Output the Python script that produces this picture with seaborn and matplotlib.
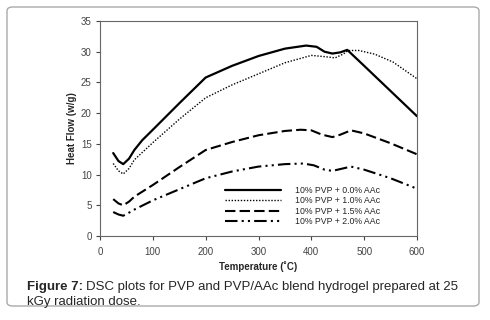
import pandas as pd
import matplotlib.pyplot as plt
import seaborn as sns
from matplotlib.patches import FancyBboxPatch

# DSC curves (temperature in C, heat flow in w/g)
temp_00 = [25, 35, 44, 55, 65, 80, 100, 150, 200, 250, 300, 350, 390, 410, 425, 440, 455, 468, 500, 550, 600]
flow_00 = [13.5, 12.2, 11.7, 12.6, 14.0, 15.6, 17.3, 21.6, 25.8, 27.7, 29.3, 30.5, 31.0, 30.8, 30.0, 29.7, 29.9, 30.3, 27.7, 23.6, 19.5]

temp_10 = [25, 35, 44, 55, 65, 80, 100, 150, 200, 250, 300, 350, 400, 425, 445, 460, 470, 490, 520, 555, 600]
flow_10 = [11.8, 10.6, 10.1, 11.0, 12.4, 13.6, 15.2, 19.0, 22.5, 24.6, 26.4, 28.2, 29.4, 29.2, 29.0, 29.6, 30.2, 30.2, 29.6, 28.3, 25.6]

temp_15 = [25, 35, 44, 55, 65, 100, 150, 200, 250, 300, 350, 380, 400, 420, 440, 455, 475, 500, 550, 600]
flow_15 = [6.0, 5.3, 5.0, 5.6, 6.4, 8.3, 11.2, 14.0, 15.3, 16.4, 17.1, 17.3, 17.2, 16.5, 16.1, 16.5, 17.2, 16.7, 15.1, 13.3]

temp_20 = [25, 35, 44, 55, 65, 100, 150, 200, 250, 300, 350, 385, 405, 425, 440, 455, 475, 500, 550, 600]
flow_20 = [3.9, 3.5, 3.3, 3.8, 4.3, 5.8, 7.6, 9.4, 10.5, 11.3, 11.7, 11.8, 11.5, 10.8, 10.6, 10.9, 11.3, 10.8, 9.4, 7.7]

labels = ["10% PVP + 0.0% AAc", "10% PVP + 1.0% AAc",
          "10% PVP + 1.5% AAc", "10% PVP + 2.0% AAc"]

sns.set_style("white")
plt.rcParams['font.family'] = ['Liberation Sans', 'DejaVu Sans']

fig = plt.figure(figsize=(4.9, 3.2), dpi=100)
ax = fig.add_axes([100 / 490, 84 / 320, 317 / 490, 215 / 320])

series = [(temp_00, flow_00, dict(lw=1.6, linestyle='-')),
          (temp_10, flow_10, dict(lw=1.0, linestyle=(0, (1, 1.2)))),
          (temp_15, flow_15, dict(lw=1.5, linestyle=(0, (5, 2)))),
          (temp_20, flow_20, dict(lw=1.5, linestyle=(0, (6, 2, 1, 2, 1, 2))))]

for (t, f, style), lab in zip(series, labels):
    df = pd.DataFrame({'Temperature': t, 'Heat Flow': f})
    sns.lineplot(data=df, x='Temperature', y='Heat Flow', ax=ax, color='black',
                 label=lab, **style)

ax.set_xlim(0, 600)
ax.set_ylim(0, 35)
ax.set_xticks(range(0, 601, 100))
ax.set_yticks(range(0, 36, 5))
ax.tick_params(axis='both', labelsize=7, colors='#444444', direction='out',
               length=3, width=0.8, left=True, bottom=True, pad=3)
ax.tick_params(axis='x', pad=5)
for s in ax.spines.values():
    s.set_color('#666666')
    s.set_linewidth(0.8)

ax.set_xlabel('Temperature (˚C)', fontsize=7, fontweight='bold', labelpad=3)
ax.set_ylabel('Heat Flow (w/g)', fontsize=7, fontweight='bold', labelpad=3)

ax.legend(loc='lower right', bbox_to_anchor=(0.91, 0.01), frameon=False,
          fontsize=6.3, handlelength=6.5, handletextpad=1.6, labelspacing=0.15)

# rounded frame around figure + caption
fig.patches.append(FancyBboxPatch((7 / 490, 14 / 320), 472 / 490, 299 / 320,
                                  boxstyle='round,pad=0,rounding_size=0.012',
                                  transform=fig.transFigure, fill=False,
                                  edgecolor='#aaaaaa', lw=1))

t1 = fig.text(27 / 490, 1 - 287 / 320, 'Figure 7:', fontsize=9.5, fontweight='bold',
              va='center', ha='left')
fig.canvas.draw()
bb = t1.get_window_extent()
fig.text(bb.x1 / 490 + 3 / 490, 1 - 287 / 320,
         'DSC plots for PVP and PVP/AAc blend hydrogel prepared at 25',
         fontsize=9.5, va='center', ha='left')
fig.text(27 / 490, 1 - 302 / 320, 'kGy radiation dose.', fontsize=9.5,
         va='center', ha='left')

fig.savefig('out.png', dpi=100)
